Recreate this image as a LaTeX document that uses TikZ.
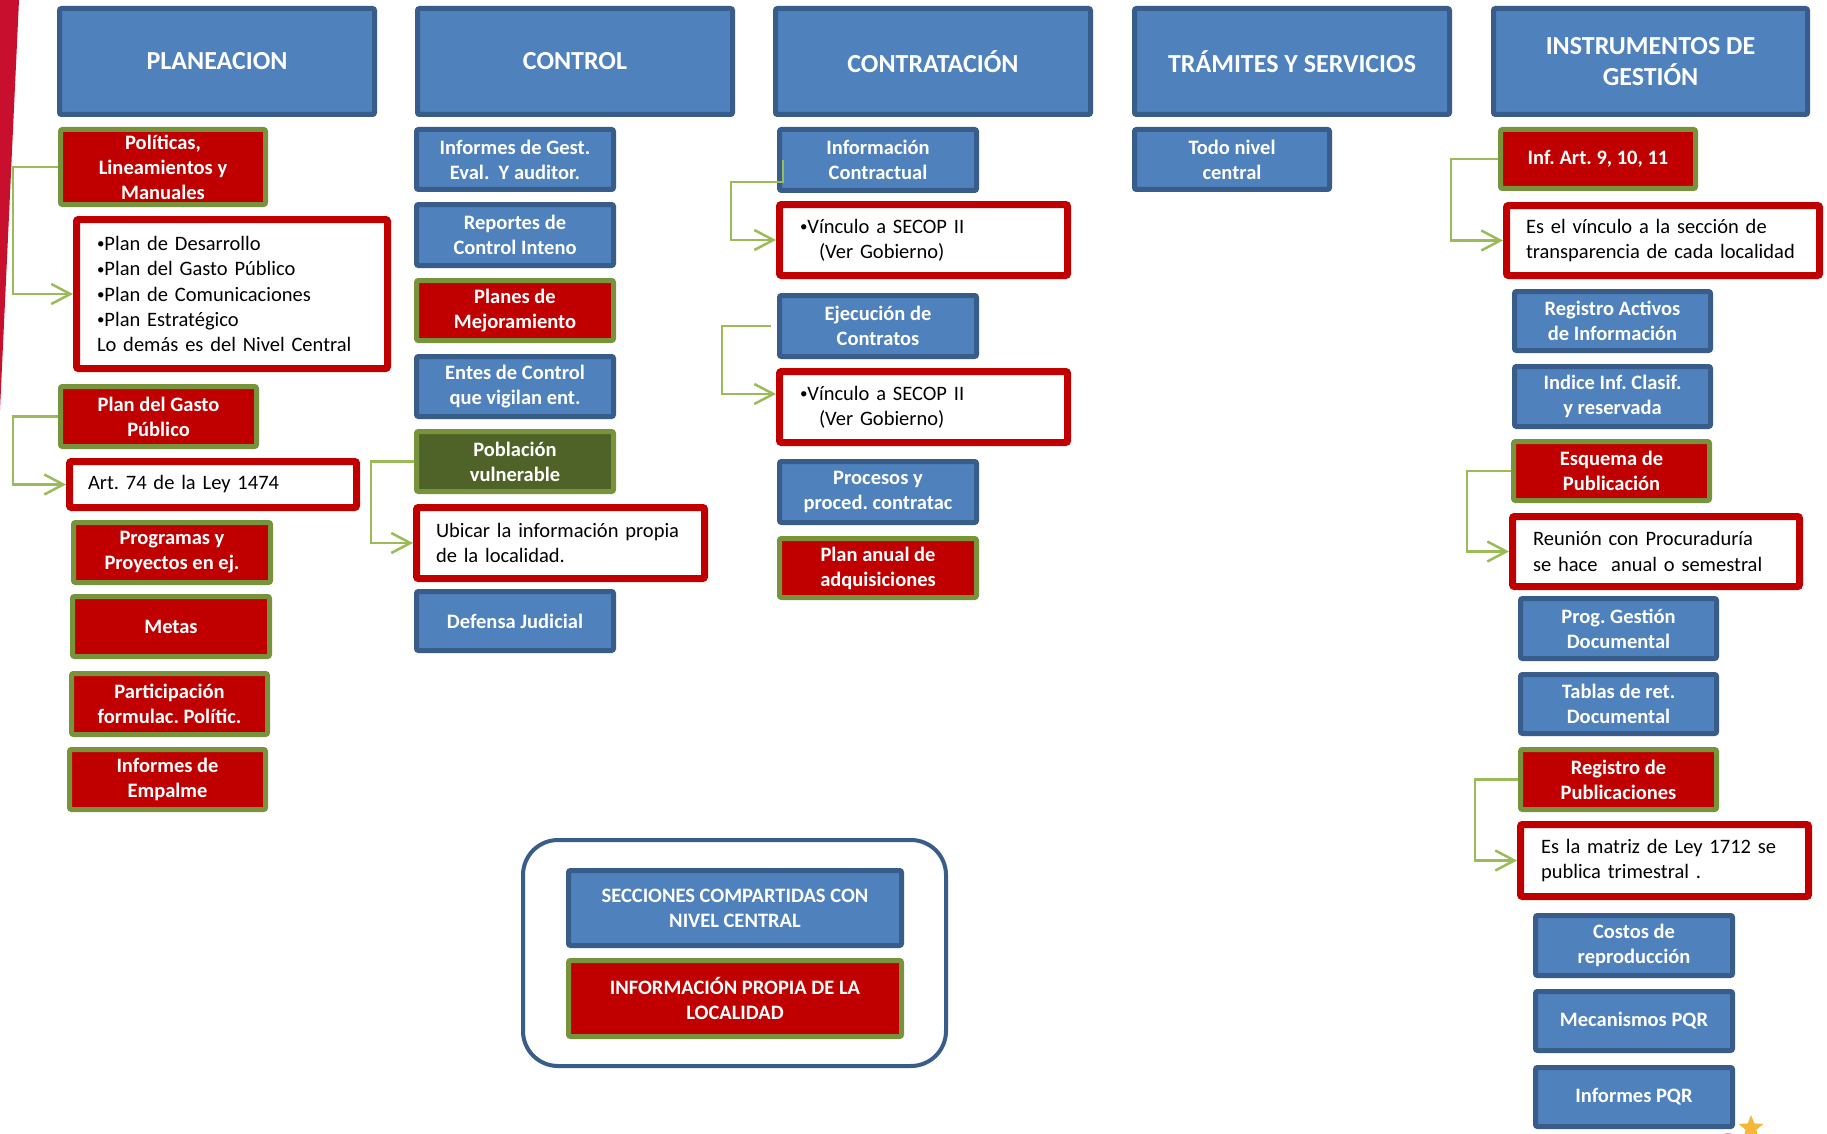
\documentclass[tikz,border=0pt]{standalone}
\usepackage{fontspec}
\setmainfont{Carlito}
\usetikzlibrary{arrows.meta,shapes.geometric}
\definecolor{blueF}{RGB}{79,129,189}
\definecolor{blueD}{RGB}{56,93,138}
\definecolor{redF}{RGB}{192,0,0}
\definecolor{greenD}{RGB}{119,147,60}
\definecolor{oliveF}{RGB}{79,98,40}
\definecolor{greenL}{RGB}{155,187,89}
\definecolor{stripeR}{RGB}{200,16,46}
\definecolor{goldS}{RGB}{246,182,55}
\definecolor{orangeS}{RGB}{242,161,58}
\newcommand\boxfont{\fontsize{20.5}{25}\selectfont\bfseries\frenchspacing}
\newcommand\hdrfont{\fontsize{26}{31}\selectfont\bfseries\frenchspacing}
\newcommand\wfont{\fontsize{20.5}{25.3}\selectfont\frenchspacing}
\newcommand\bul{\raisebox{1.5pt}{\fontsize{15}{15}\selectfont•}}
% colored box: style, name, x1, x2, y1, y2, text  (border 5)
\newcommand\cbox[7]{%
  \pgfmathsetmacro\cx{(#3+#4)/2}\pgfmathsetmacro\cy{(#5+#6)/2}%
  \pgfmathsetmacro\ww{#4-#3-5}\pgfmathsetmacro\hh{#6-#5-5}%
  \node[#1, minimum width=\ww pt, minimum height=\hh pt] (#2) at (\cx,\cy) {#7};}
% white box: name, x1, x2, y1, y2, pad, text (border 7)
\newcommand\wbx[7]{%
  \pgfmathsetmacro\cx{(#2+#3)/2}\pgfmathsetmacro\cy{(#4+#5)/2}%
  \pgfmathsetmacro\ww{#3-#2-7}\pgfmathsetmacro\hh{#5-#4-7}%
  \pgfmathsetmacro\tw{#3-#2-2*#6}%
  \node[wbox, minimum width=\ww pt, minimum height=\hh pt, text width=\tw pt] (#1) at (\cx,\cy) {#7};}
\tikzset{
  base/.style={rounded corners=2pt, align=center, inner sep=0pt, font=\boxfont, text=white},
  hdr/.style={base, fill=blueF, draw=blueD, line width=5pt, font=\hdrfont},
  bbox/.style={base, fill=blueF, draw=blueD, line width=5pt},
  rbox/.style={base, fill=redF, draw=greenD, line width=5pt},
  obox/.style={base, fill=oliveF, draw=greenD, line width=5pt},
  wbox/.style={rounded corners=2pt, draw=redF, fill=white, line width=7pt, align=left, inner sep=0pt, font=\wfont, text=black},
  legbox/.style={draw=blueD, line width=4pt, rounded corners=35pt, fill=white},
  conn/.style={draw=greenL, line width=2.5pt, -{Straight Barb[length=19pt,width=20pt]}}
}
\begin{document}
\begin{tikzpicture}[x=1pt,y=-1pt]
\useasboundingbox (0,0) rectangle (1827,1134);
\fill[white] (0,0) rectangle (1827,1134);
\fill[stripeR] (0,0) -- (19,0) -- (0,410) -- cycle;
% headers
\cbox{hdr}{h1}{57}{377}{6}{117}{PLANEACION}
\cbox{hdr}{h2}{415}{735}{6}{117}{CONTROL}
\cbox{hdr}{h3}{773}{1093}{6}{117}{CONTRATACIÓN}
\cbox{hdr}{h4}{1132}{1452}{6}{117}{TRÁMITES Y SERVICIOS}
\cbox{hdr}{h5}{1491}{1810}{6}{117}{INSTRUMENTOS DE\\GESTIÓN}
% column 1
\cbox{rbox}{p1}{58}{268}{127}{207}{Políticas,\\Lineamientos y\\Manuales}
\wbx{p1w}{73}{391}{216}{372}{24}{\mbox{\bul Plan de Desarrollo}\\\mbox{\bul Plan del Gasto Público}\\\mbox{\bul Plan de Comunicaciones}\\\mbox{\bul Plan Estratégico}\\\mbox{Lo demás es del Nivel Central}}
\cbox{rbox}{p2}{58}{259}{384}{449}{Plan del Gasto\\Público}
\wbx{p2w}{66}{360}{458}{511}{22}{\mbox{Art. 74 de la Ley 1474}}
\cbox{rbox}{p3}{71}{273}{520}{585}{Programas y\\Proyectos en ej.}
\cbox{rbox}{p4}{70}{272}{594}{659}{Metas}
\cbox{rbox}{p5}{69}{270}{671}{737}{Participación\\formulac. Polític.}
\cbox{rbox}{p6}{67}{268}{747}{812}{Informes de\\Empalme}
% column 2
\cbox{bbox}{c1}{414}{616}{127}{192}{Informes de Gest.\\Eval.\ \ Y auditor.}
\cbox{bbox}{c2}{414}{616}{202}{268}{Reportes de\\Control Inteno}
\cbox{rbox}{c3}{414}{616}{278}{343}{Planes de\\Mejoramiento}
\cbox{bbox}{c4}{414}{616}{354}{419}{Entes de Control\\que vigilan ent.}
\cbox{obox}{c5}{414}{616}{429}{494}{Población\\vulnerable}
\wbx{c5w}{413}{708}{504}{582}{23}{\mbox{Ubicar la información propia}\\\mbox{de la localidad.}}
\cbox{bbox}{c6}{414}{616}{589}{653}{Defensa Judicial}
% column 3
\cbox{bbox}{k1}{777}{979}{127}{193}{Información\\Contractual}
\wbx{k1w}{776}{1071}{201}{279}{24}{\mbox{\bul Vínculo a SECOP II}\\\mbox{\hspace*{19pt}(Ver Gobierno)}}
\cbox{bbox}{k2}{777}{979}{293}{359}{Ejecución de\\Contratos}
\wbx{k2w}{776}{1071}{368}{446}{24}{\mbox{\bul Vínculo a SECOP II}\\\mbox{\hspace*{19pt}(Ver Gobierno)}}
\cbox{bbox}{k3}{777}{979}{459}{525}{Procesos y\\proced. contratac}
\cbox{rbox}{k4}{777}{979}{536}{600}{Plan anual de\\adquisiciones}
% column 4
\cbox{bbox}{t1}{1132}{1332}{127}{192}{Todo nivel\\central}
% column 5
\cbox{rbox}{i1}{1498}{1698}{127}{191}{Inf. Art. 9, 10, 11}
\wbx{i1w}{1503}{1823}{202}{279}{23}{\mbox{Es el vínculo a la sección de}\\\mbox{transparencia de cada localidad}}
\cbox{bbox}{i2}{1512}{1713}{289}{353}{Registro Activos\\de Información}
\cbox{bbox}{i3}{1512}{1713}{364}{429}{Indice Inf. Clasif.\\y reservada}
\cbox{rbox}{i4}{1511}{1712}{439}{503}{Esquema de\\Publicación}
\wbx{i4w}{1509}{1803}{513}{590}{24}{\mbox{Reunión con Procuraduría}\\\mbox{se hace\ \ anual o semestral}}
\cbox{bbox}{i5}{1518}{1719}{596}{661}{Prog. Gestión\\Documental}
\cbox{bbox}{i6}{1518}{1719}{672}{736}{Tablas de ret.\\Documental}
\cbox{rbox}{i7}{1518}{1719}{747}{812}{Registro de\\Publicaciones}
\wbx{i7w}{1517}{1812}{821}{900}{24}{\mbox{Es la matriz de Ley 1712 se}\\\mbox{publica trimestral .}}
\cbox{bbox}{i8}{1533}{1735}{913}{978}{Costos de\\reproducción}
\cbox{bbox}{i9}{1533}{1735}{989}{1053}{Mecanismos PQR}
\cbox{bbox}{i10}{1533}{1735}{1065}{1129}{Informes PQR}
% legend
\node[legbox, minimum width=423pt, minimum height=226pt] (leg) at (734.5,953) {};
\cbox{bbox}{l1}{566}{904}{868}{948}{SECCIONES COMPARTIDAS CON\\NIVEL CENTRAL}
\cbox{rbox}{l2}{566}{904}{958}{1039}{INFORMACIÓN PROPIA DE LA\\LOCALIDAD}
% connectors
\draw[conn] (p1.west) -- ++(-45,0) |- (p1w.west);
\draw[conn] (p2.west) -- ++(-45,0) |- (p2w.west);
\draw[conn] (c5.west) -- ++(-43,0) |- (c5w.west);
\draw[conn] ([xshift=6pt]k1.west) -- ++(0,22) -- ++(-52,0) |- (k1w.west);
\draw[conn] ([xshift=-6pt]k2.west) -- ++(-49,0) |- ([yshift=13pt]k2w.west);
\draw[conn] (i1.west) -- ++(-47,0) |- (i1w.west);
\draw[conn] (i4.west) -- ++(-44,0) |- (i4w.west);
\draw[conn] (i7.west) -- ++(-43,0) |- (i7w.west);
% decoration
\fill[orangeS] (1728,1142) circle (9pt);
\node[star, star points=5, star point ratio=2.3, fill=goldS, minimum size=26pt, inner sep=0pt] (st) at (1751,1128) {};
\end{tikzpicture}
\end{document}
